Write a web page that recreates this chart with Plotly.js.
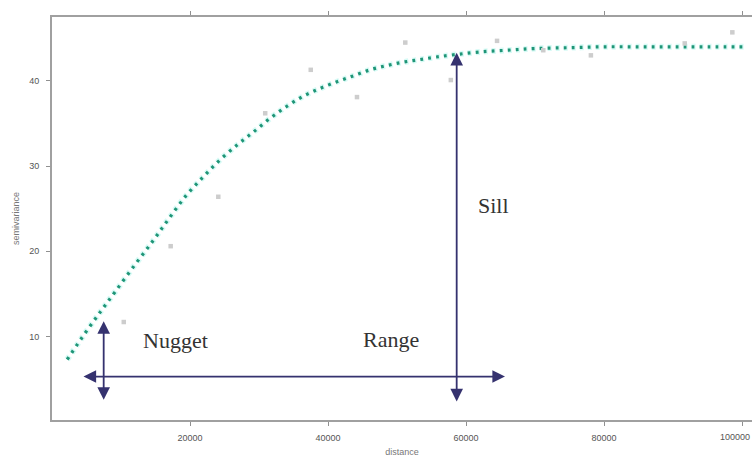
<!DOCTYPE html>
<html>
<head>
<meta charset="utf-8">
<script src="https://cdn.plot.ly/plotly-3.0.1.min.js"></script>
<style>html,body{margin:0;padding:0;background:#fff;}#chart{width:752px;height:457px;}</style>
</head>
<body>
<div id="chart"></div>
<script>
// Fitted model curve (distance, semivariance)
const modelDistance = [2200, 4800, 7200, 9200, 12000, 14700, 17000, 19500, 22000, 24300, 27000, 29200, 31600, 34000, 36400, 38800, 41300, 43700, 46100, 48500, 50900, 53300, 55700, 58600, 62000, 66000, 70000, 75000, 80000, 85000, 90000, 95000, 100500];
const modelGamma    = [7.3, 10.4, 13.1, 15.3, 18.4, 21.3, 23.9, 26.6, 28.8, 30.7, 32.6, 34.0, 35.6, 37.0, 38.2, 39.1, 39.9, 40.6, 41.3, 41.8, 42.2, 42.5, 42.8, 43.1, 43.4, 43.6, 43.8, 43.9, 44.0, 44.0, 44.0, 44.0, 44.0];

// Empirical semivariogram points
const empDistance = [10400, 17200, 24100, 30900, 37500, 44200, 51200, 57800, 64500, 71200, 78100, 91700, 98600];
const empGamma    = [11.7, 20.6, 26.4, 36.2, 41.3, 38.1, 44.5, 40.1, 44.7, 43.6, 43.0, 44.4, 45.7];

// Axis ticks
const xTicks = [20000, 40000, 60000, 80000, 100000];
const xTickLabels = ["20000", "40000", "60000", "80000", "100000"];
const yTicks = [10, 20, 30, 40];

// Labels
const labelText = ["Nugget", "Range", "Sill"];
const labelX    = [17900, 49100, 64000];
const labelY    = [9.5, 9.6, 25.4];

// Double-headed arrows: [x0, y0] -> [x1, y1]
const arrowX0 = [4350, 7490, 58650];
const arrowY0 = [5.3, 2.4, 2.2];
const arrowX1 = [65650, 7490, 58650];
const arrowY1 = [5.3, 11.8, 43.3];

const traces = [
  {
    x: modelDistance, y: modelGamma, type: 'scatter', mode: 'lines',
    line: {color: 'rgba(90,235,215,0.25)', width: 6, dash: '4px,4px', shape: 'spline'},
    hoverinfo: 'skip', showlegend: false
  },
  {
    x: modelDistance, y: modelGamma, type: 'scatter', mode: 'lines',
    line: {color: '#1f9577', width: 3.2, dash: '2.8px,5.2px', shape: 'spline'},
    showlegend: false
  },
  {
    x: empDistance, y: empGamma, type: 'scatter', mode: 'markers',
    marker: {color: '#cdcdcd', size: 4.5, symbol: 'square'},
    showlegend: false
  }
];

// Last tick label sits at the right edge; keep it fully inside the page
const lastIdx = xTicks.length - 1;
const shownTickText = xTickLabels.map((t, i) => i === lastIdx ? '' : t);

const annotations = [];
for (let i = 0; i < labelText.length; i++) {
  annotations.push({
    x: labelX[i], y: labelY[i], xref: 'x', yref: 'y', text: labelText[i],
    showarrow: false, font: {family: 'Liberation Serif, serif', size: 22, color: '#333333'}
  });
}
annotations.push({
  x: 1, xref: 'paper', xanchor: 'right', y: 0, yref: 'paper', yanchor: 'top', yshift: -10,
  text: xTickLabels[lastIdx], showarrow: false,
  font: {family: 'Liberation Sans, Arial, sans-serif', size: 9, color: '#555555'}
});
for (let i = 0; i < arrowX0.length; i++) {
  annotations.push({
    x: arrowX1[i], y: arrowY1[i], ax: arrowX0[i], ay: arrowY0[i],
    xref: 'x', yref: 'y', axref: 'x', ayref: 'y', text: '',
    showarrow: true, arrowhead: 2, startarrowhead: 2, arrowside: 'end+start',
    arrowsize: 1.4, startarrowsize: 1.4, arrowwidth: 1.8, arrowcolor: '#35326f', standoff: 0, startstandoff: 0
  });
}

const layout = {
  width: 752, height: 457,
  margin: {l: 52, r: 0, t: 17, b: 37, pad: 0},
  paper_bgcolor: '#ffffff', plot_bgcolor: '#ffffff',
  showlegend: false,
  font: {family: 'Liberation Sans, Arial, sans-serif', size: 9, color: '#555555'},
  xaxis: {
    range: [0, 101450], tickvals: xTicks, ticktext: shownTickText,
    showgrid: false, zeroline: false, showline: true, linecolor: '#a0a0a0', linewidth: 2,
    mirror: 'ticks', ticks: 'outside', ticklen: 4, tickcolor: '#909090', tickwidth: 1,
    tickfont: {size: 9, color: '#555555'}, ticklabelstandoff: 4,
    title: {text: 'distance', font: {size: 9, color: '#777777'}, standoff: 8}
  },
  yaxis: {
    range: [0.2, 47.5], tickvals: yTicks, ticktext: yTicks.map(String),
    showgrid: false, zeroline: false, showline: true, linecolor: '#a0a0a0', linewidth: 2,
    ticks: 'outside', ticklen: 4, tickcolor: '#909090', tickwidth: 1,
    tickfont: {size: 9, color: '#555555'}, ticklabelstandoff: 5,
    title: {text: 'semivariance', font: {size: 9, color: '#777777'}, standoff: 8}
  },
  annotations: annotations
};

Plotly.newPlot('chart', traces, layout, {staticPlot: true, displayModeBar: false});
</script>
</body>
</html>
